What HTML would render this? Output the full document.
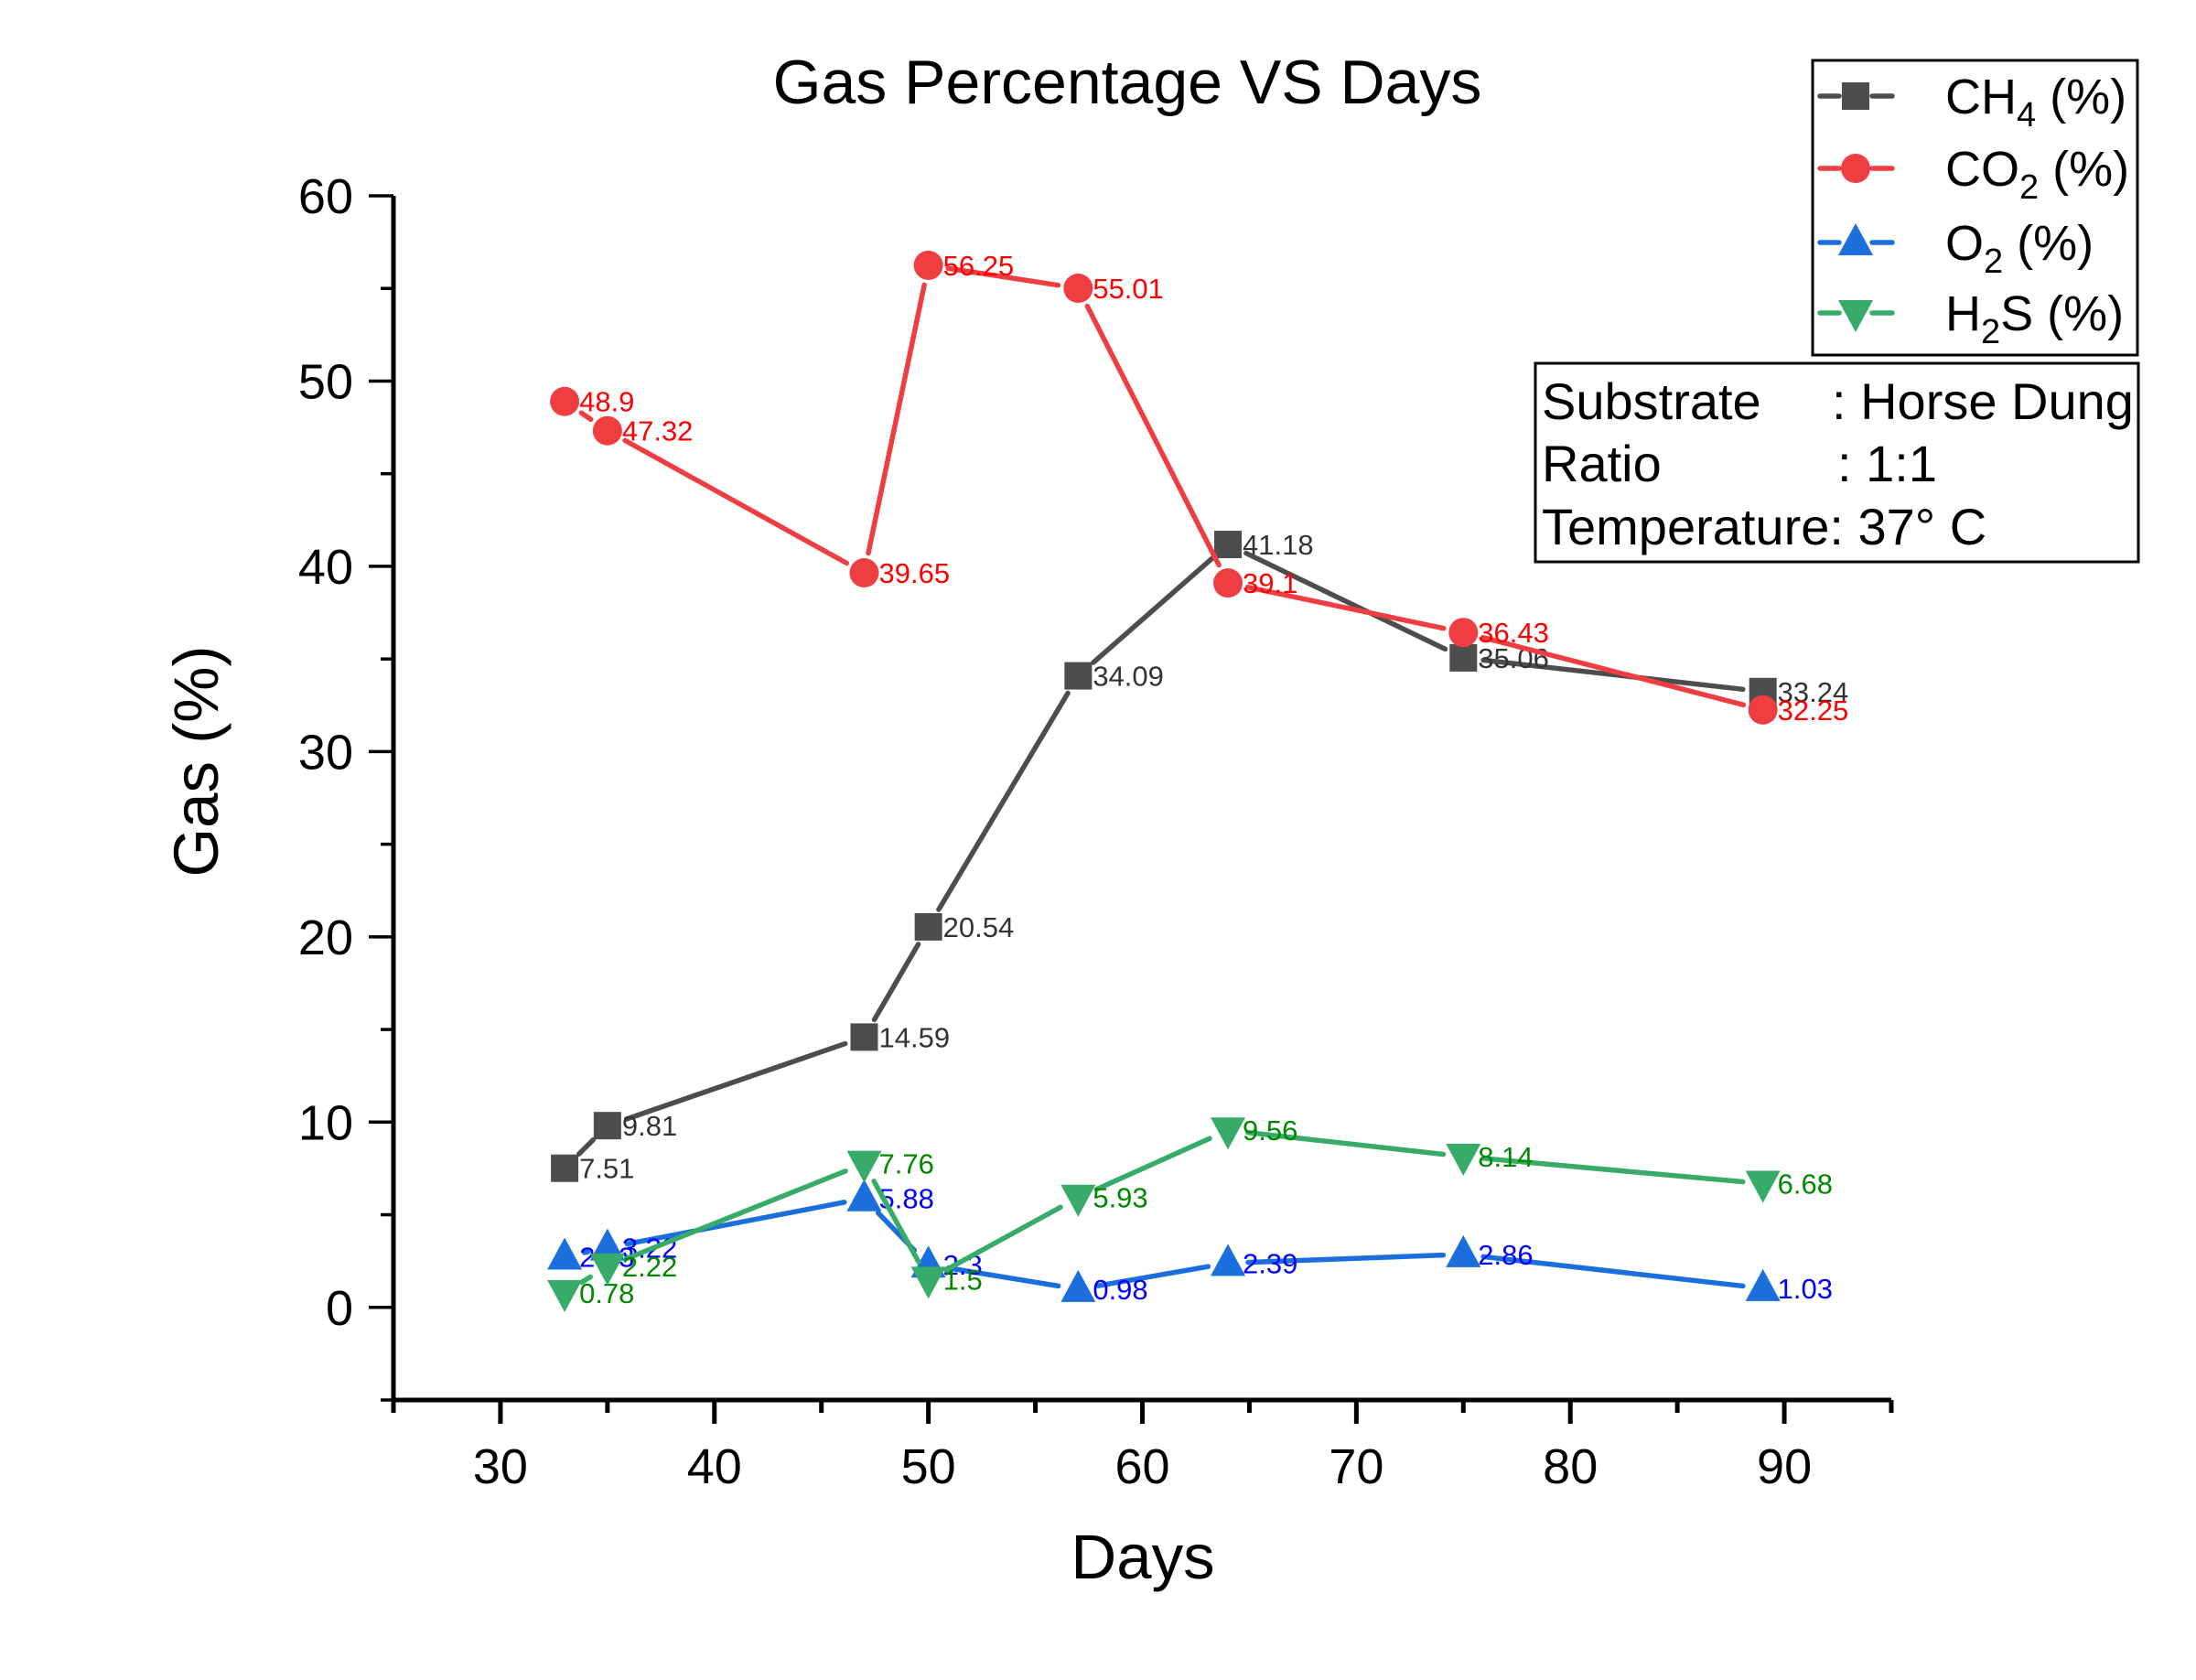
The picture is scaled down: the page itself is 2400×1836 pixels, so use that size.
<!DOCTYPE html>
<html><head><meta charset="utf-8"><style>
html,body{margin:0;padding:0;background:#fff}
svg{display:block;font-family:"Liberation Sans",Arial,sans-serif}
</style></head><body>
<svg id="chart" width="2400" height="1836" viewBox="0 0 2400 1836" xmlns="http://www.w3.org/2000/svg">
<rect x="0" y="0" width="2400" height="1836" fill="#fff"/>
<text x="1232" y="113" font-size="68" text-anchor="middle">Gas Percentage VS Days</text>
<text x="1249" y="1725" font-size="69" text-anchor="middle">Days</text>
<text transform="translate(238,832) rotate(-90)" font-size="69" text-anchor="middle">Gas (%)</text>
<g id="axes"></g>
<g id="series"></g>
<g>
<rect x="1981" y="66" width="355" height="322" fill="#fff" stroke="#000" stroke-width="3"/>
<g id="legend-items"></g>
</g>
<g>
<rect x="1678" y="397" width="659" height="217" fill="#fff" stroke="#000" stroke-width="3"/>
<text x="1685" y="458" font-size="56">Substrate</text>
<text x="2002" y="458" font-size="56">: Horse Dung</text>
<text x="1685" y="526" font-size="56">Ratio</text>
<text x="2008" y="526" font-size="56">: 1:1</text>
<text x="1685" y="595" font-size="56">Temperature: 37° C</text>
</g>
</svg>
<script>
const days = [33, 35, 47, 50, 57, 64, 75, 89];
const ch4 = [7.51, 9.81, 14.59, 20.54, 34.09, 41.18, 35.06, 33.24];
const co2 = [48.9, 47.32, 39.65, 56.25, 55.01, 39.1, 36.43, 32.25];
const o2 = [2.73, 3.22, 5.88, 2.3, 0.98, 2.39, 2.86, 1.03];
const h2s = [0.78, 2.22, 7.76, 1.5, 5.93, 9.56, 8.14, 6.68];
const xTicks = [30, 40, 50, 60, 70, 80, 90];
const yTicks = [0, 10, 20, 30, 40, 50, 60];

const NS = "http://www.w3.org/2000/svg";
const X0 = 430, X1 = 2067, Y0 = 1530, Y1 = 214;
const xMin = 25, xMax = 95, yMin = -5, yMax = 60;
function xs(v){ return X0 + (v - xMin) / (xMax - xMin) * (X1 - X0); }
function ys(v){ return Y0 - (v - yMin) / (yMax - yMin) * (Y0 - Y1); }
function mk(tag, attrs, parent){ const e = document.createElementNS(NS, tag); for (const k in attrs) e.setAttribute(k, attrs[k]); parent.appendChild(e); return e; }

const axes = document.getElementById('axes');
let el;
el = mk('line', {x1:X0, y1:Y1, x2:X0, y2:Y0+2, stroke:'#000', 'stroke-width':5}, axes);


el = mk('line', {x1:X0-2, y1:Y0, x2:X1, y2:Y0, stroke:'#000', 'stroke-width':5}, axes);


for (let v = -5; v <= 60; v += 5) {
  const major = v % 10 === 0;
  el = mk('line', {x1:X0 - (major ? 27 : 14), y1:ys(v), x2:X0, y2:ys(v), stroke:'#000', 'stroke-width':3.5}, axes);
  
  
}
yTicks.forEach(v => {
  el = mk('text', {x:386, y:ys(v)+19, 'font-size':54, 'text-anchor':'end'}, axes);
  el.textContent = v;
  
  
});
for (let v = 25; v <= 95; v += 5) {
  const major = v % 10 === 0;
  el = mk('line', {x1:xs(v), y1:Y0, x2:xs(v), y2:Y0 + (major ? 26 : 14), stroke:'#000', 'stroke-width':5}, axes);
  
  
}
xTicks.forEach(v => {
  el = mk('text', {x:xs(v), y:1621, 'font-size':54, 'text-anchor':'middle'}, axes);
  el.textContent = v;
  
  
});

function marker(shape, cx, cy, color, parent){
  if (shape === 'square') return mk('rect', {x:cx-15, y:cy-15, width:30, height:30, fill:color}, parent);
  if (shape === 'circle') return mk('circle', {cx:cx, cy:cy, r:16, fill:color}, parent);
  if (shape === 'up') return mk('polygon', {points:`${cx},${cy-21} ${cx-19},${cy+14} ${cx+19},${cy+14}`, fill:color}, parent);
  return mk('polygon', {points:`${cx},${cy+21} ${cx-19},${cy-14} ${cx+19},${cy-14}`, fill:color}, parent);
}

const seriesDefs = [
  {name:'ch4', vals:ch4, color:'#4d4d4d', text:'#333333', shape:'square'},
  {name:'co2', vals:co2, color:'#ef3e42', text:'#ff0000', shape:'circle'},
  {name:'o2', vals:o2, color:'#1a6fdc', text:'#0000ff', shape:'up'},
  {name:'h2s', vals:h2s, color:'#38ab69', text:'#008800', shape:'down'}
];
const sl = document.getElementById('series');
seriesDefs.forEach(s => {
  const g = mk('g', {}, sl);
  
  
  for (let i = 0; i < days.length - 1; i++) {
    const ax = xs(days[i]), ay = ys(s.vals[i]), bx = xs(days[i+1]), by = ys(s.vals[i+1]);
    const dx = bx-ax, dy = by-ay, L = Math.hypot(dx, dy), gap = 22;
    if (L <= 2*gap) continue;
    const ux = dx/L, uy = dy/L;
    el = mk('line', {x1:ax+ux*gap, y1:ay+uy*gap, x2:bx-ux*gap, y2:by-uy*gap, stroke:s.color, 'stroke-width':5.5, 'stroke-linecap':'round'}, g);
    
    
  }
  days.forEach((d, i) => {
    el = marker(s.shape, xs(d), ys(s.vals[i]), s.color, g);
    
    
    el = mk('text', {x:xs(d)+16, y:ys(s.vals[i])+11, 'font-size':31, fill:s.text}, g);
    el.textContent = s.vals[i];
    
    
  });
});

const li = document.getElementById('legend-items');
const legendRows = [105, 184, 265, 342];
const legendLabels = [['CH','4',' (%)'], ['CO','2',' (%)'], ['O','2',' (%)'], ['H','2','S (%)']];
seriesDefs.forEach((s, i) => {
  const y = legendRows[i];
  const g = mk('g', {}, li);
  
  
  mk('line', {x1:1989, y1:y, x2:2010, y2:y, stroke:s.color, 'stroke-width':5.5, 'stroke-linecap':'round'}, g);
  mk('line', {x1:2046, y1:y, x2:2068, y2:y, stroke:s.color, 'stroke-width':5.5, 'stroke-linecap':'round'}, g);
  marker(s.shape, 2028, y, s.color, g);
  const t = mk('text', {x:2126, y:y+19, 'font-size':54}, g);
  const lab = legendLabels[i];
  const a = mk('tspan', {}, t); a.textContent = lab[0];
  const b = mk('tspan', {dy:14, 'font-size':38}, t); b.textContent = lab[1];
  const c = mk('tspan', {dy:-14}, t); c.textContent = lab[2];
});
</script>
</body></html>
